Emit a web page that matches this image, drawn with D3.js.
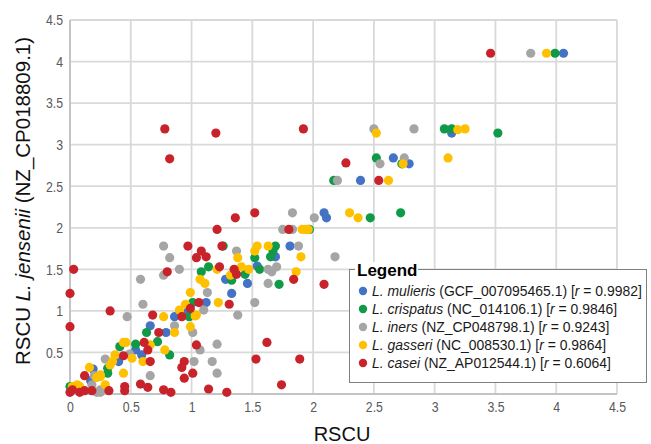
<!doctype html>
<html>
<head>
<meta charset="utf-8">
<script src="https://cdnjs.cloudflare.com/ajax/libs/d3/7.8.5/d3.min.js"></script>
<style>
  body { margin: 0; background: #fff; }
  svg { display: block; }
  .tick text { font-family: 'Liberation Sans', Arial, sans-serif; fill: #595959; font-size: 15px; }
</style>
</head>
<body>
<svg id="chart" width="651" height="444"></svg>
<script>
// tick labels
const xTicks = [0, 0.5, 1, 1.5, 2, 2.5, 3, 3.5, 4, 4.5];
const yTicks = [0.5, 1, 1.5, 2, 2.5, 3, 3.5, 4, 4.5];

const seriesNames = ["L. mulieris", "L. crispatus", "L. iners", "L. gasseri", "L. casei"];
const accessions = ["GCF_007095465.1", "NC_014106.1", "NZ_CP048798.1", "NC_008530.1", "NZ_AP012544.1"];
const rValues = ["0.9982", "0.9846", "0.9243", "0.9864", "0.6064"];

// [x RSCU of species, y RSCU of L. jensenii]
const mulieris = [
  [4.06,4.10],[3.14,3.14],[2.66,2.84],[2.79,2.77],[2.39,2.57],[2.09,2.18],[2.11,2.12],
  [1.81,1.78],[1.69,1.65],[1.54,1.54],[1.28,1.38],[1.46,1.33],[1.33,1.21],[1.12,1.10],
  [0.97,0.99],[0.86,0.93],[0.66,0.82],[0.79,0.74],[0.54,0.53],[0.59,0.47],[0.40,0.39],
  [0.19,0.30],[0.17,0.16],[0.05,0.07]
];
const crispatus = [
  [3.99,4.10],[3.08,3.19],[3.14,3.19],[3.52,3.14],[2.52,2.84],[2.73,2.77],[2.17,2.57],
  [2.47,2.12],[2.72,2.18],[1.97,1.98],[1.26,1.78],[1.69,1.78],[1.67,1.72],[1.65,1.65],
  [1.52,1.64],[1.08,1.47],[1.14,1.53],[1.44,1.44],[1.56,1.50],[1.33,1.37],[1.72,1.32],
  [1.01,1.10],[0.98,0.93],[0.63,0.74],[0.72,0.63],[0.82,0.47],[0.54,0.60],[0.41,0.57],
  [0.31,0.31],[0.31,0.25],[0.00,0.09]
];
const iners = [
  [3.79,4.10],[2.50,3.19],[2.83,3.19],[2.55,2.77],[2.75,2.84],[2.20,2.57],[1.83,2.18],
  [2.01,2.12],[1.75,1.98],[1.83,1.98],[0.77,1.78],[0.82,1.64],[1.37,1.72],[1.88,1.78],
  [2.18,1.65],[0.90,1.50],[0.77,1.43],[1.66,1.47],[1.70,1.53],[1.63,1.50],[0.58,1.38],
  [1.63,1.33],[0.60,1.08],[0.47,0.93],[1.13,1.22],[1.10,1.01],[1.52,1.10],[1.38,0.95],
  [0.86,0.82],[1.01,0.74],[1.07,0.53],[1.21,0.60],[1.02,0.39],[1.17,0.39],[1.21,0.25],
  [0.49,0.48],[0.29,0.42],[0.66,0.22],[0.20,0.22],[0.18,0.11],[0.25,0.05],[0.08,0.04],
  [0.22,0.02],[0.25,0.02]
];
const gasseri = [
  [3.92,4.10],[2.52,3.14],[3.19,3.18],[3.25,3.19],[3.11,2.84],[2.74,2.77],[2.62,2.57],
  [2.30,2.18],[2.37,2.12],[1.91,1.98],[1.94,1.98],[1.96,1.98],[1.54,1.78],[1.63,1.78],
  [1.52,1.72],[1.38,1.64],[1.90,1.65],[1.21,1.50],[1.41,1.53],[1.47,1.50],[1.32,1.43],
  [1.86,1.47],[1.07,1.38],[1.11,1.33],[0.99,1.22],[1.22,1.10],[0.95,1.08],[0.90,1.01],
  [1.04,0.95],[0.77,0.93],[1.03,0.94],[0.99,0.81],[0.86,0.74],[0.44,0.62],[0.46,0.62],
  [0.66,0.59],[0.78,0.53],[0.51,0.43],[0.60,0.39],[0.37,0.47],[0.35,0.39],[0.33,0.35],
  [0.16,0.32],[0.44,0.25],[0.22,0.20],[0.25,0.21],[0.29,0.11],[0.02,0.09],[0.06,0.11],
  [0.08,0.09],[0.25,0.23]
];
const casei = [
  [3.46,4.10],[1.92,3.19],[0.78,3.19],[1.20,3.14],[0.82,2.83],[2.27,2.78],[2.54,2.57],
  [1.36,2.12],[1.52,2.18],[1.21,1.98],[1.80,1.98],[0.97,1.78],[1.08,1.72],[1.12,1.65],
  [1.04,1.64],[1.25,1.78],[0.80,1.47],[1.23,1.53],[1.35,1.50],[1.37,1.44],[1.84,1.38],
  [2.09,1.32],[0.03,1.50],[0.00,1.21],[0.00,0.81],[0.33,1.00],[0.68,0.95],[0.92,0.93],
  [0.99,1.03],[1.06,1.10],[1.31,1.08],[0.73,0.74],[0.61,0.62],[0.64,0.53],[0.66,0.39],
  [0.44,0.46],[1.04,0.59],[1.62,0.62],[0.94,0.39],[0.92,0.32],[1.01,0.25],[0.94,0.19],
  [1.53,0.42],[1.89,0.42],[1.74,0.11],[1.14,0.06],[1.29,0.02],[0.12,0.22],[0.02,0.05],
  [0.08,0.02],[0.18,0.04],[0.12,0.04],[0.00,0.02],[0.32,0.04],[0.45,0.09],[0.45,0.04],
  [0.58,0.12],[0.64,0.08],[0.77,0.05],[0.83,0.02]
];
const seriesData = [mulieris, crispatus, iners, gasseri, casei];
const colors = ["#4472C4", "#0F9A48", "#A5A5A5", "#FFC000", "#C8232B"];

const svg = d3.select("#chart");
const x = d3.scaleLinear().domain([0, 4.5]).range([70, 617]);
const y = d3.scaleLinear().domain([0, 4.5]).range([394, 20]);

// grid
svg.append("g").selectAll("line.v")
    .data(xTicks.slice(1))
    .enter().append("line")
    .attr("x1", d => x(d)).attr("x2", d => x(d))
    .attr("y1", y(0)).attr("y2", y(4.5))
    .style("stroke", "#d9d9d9").style("stroke-width", 1.8);
svg.append("g").selectAll("line.h")
    .data(yTicks)
    .enter().append("line")
    .attr("x1", x(0)).attr("x2", x(4.5))
    .attr("y1", d => y(d)).attr("y2", d => y(d))
    .style("stroke", "#d9d9d9").style("stroke-width", 1.8);

// axis lines
svg.append("line").attr("x1", x(0)).attr("x2", x(4.5)).attr("y1", y(0)).attr("y2", y(0))
    .style("stroke", "#c4c4c4").style("stroke-width", 2);
svg.append("line").attr("x1", x(0)).attr("x2", x(0)).attr("y1", y(0)).attr("y2", y(4.5))
    .style("stroke", "#c4c4c4").style("stroke-width", 2);

// tick labels (narrowed, like the condensed face in the original)
const narrow = 0.82;
const xAxis = svg.append("g").attr("transform", "translate(0," + y(0) + ")")
    .call(d3.axisBottom(x).tickValues(xTicks).tickSize(0).tickPadding(7).tickFormat(d3.format("")));
xAxis.select(".domain").remove();
xAxis.selectAll("text").attr("transform", "scale(" + narrow + ",1)");
const yAxis = svg.append("g").attr("transform", "translate(" + x(0) + ",0)")
    .call(d3.axisLeft(y).tickValues(yTicks).tickSize(0).tickPadding(7).tickFormat(d3.format("")));
yAxis.select(".domain").remove();
yAxis.selectAll("text").attr("x", -7 / narrow).attr("transform", "scale(" + narrow + ",1)");

// points
seriesData.forEach((pts, si) => {
    svg.append("g").selectAll("circle")
        .data(pts)
        .enter().append("circle")
        .attr("cx", d => x(d[0]))
        .attr("cy", d => y(d[1]))
        .attr("r", 4.6)
        .style("fill", colors[si]);
});

// axis titles
svg.append("text")
    .attr("x", 342).attr("y", 441)
    .attr("text-anchor", "middle")
    .style("font-family", "'Liberation Sans', Arial, sans-serif")
    .style("font-size", "20px").style("fill", "#111")
    .text("RSCU");

const yt = svg.append("text")
    .attr("transform", "translate(30,201) rotate(-90)")
    .attr("text-anchor", "middle")
    .style("font-family", "'Liberation Sans', Arial, sans-serif")
    .style("font-size", "20.5px").style("fill", "#111");
yt.append("tspan").text("RSCU ");
yt.append("tspan").style("font-style", "italic").text("L. jensenii");
yt.append("tspan").text(" (NZ_CP018809.1)");

// legend
const lg = svg.append("g");
lg.append("rect")
    .attr("x", 349.5).attr("y", 269.5).attr("width", 297).attr("height", 113)
    .style("fill", "#fff").style("stroke", "#7f7f7f").style("stroke-width", 1);
lg.append("rect")
    .attr("x", 355).attr("y", 262).attr("width", 63).attr("height", 14)
    .style("fill", "#fff");
lg.append("text")
    .attr("x", 357).attr("y", 276)
    .style("font-family", "'Liberation Sans', Arial, sans-serif")
    .style("font-size", "17px").style("font-weight", "bold").style("fill", "#000")
    .text("Legend");

const rows = lg.selectAll("g.row")
    .data(seriesNames)
    .enter().append("g")
    .attr("transform", (d, i) => "translate(0," + (291 + i * 18) + ")");
rows.append("circle")
    .attr("cx", 363).attr("cy", 0).attr("r", 4.2)
    .style("fill", (d, i) => colors[i]);
const rt = rows.append("g").attr("transform", "translate(372,0)")
    .append("text")
    .attr("x", 0).attr("y", 5)
    .style("font-family", "'Liberation Sans', Arial, sans-serif")
    .style("font-size", "15px").style("fill", "#1a1a1a");
rt.append("tspan").style("font-style", "italic").text(d => d);
rt.append("tspan").text((d, i) => " (" + accessions[i] + ") [");
rt.append("tspan").style("font-style", "italic").text("r");
rt.append("tspan").text((d, i) => " = " + rValues[i] + "]");
// squeeze the rows so the first one spans the same width as in the original
const w0 = rt.node().getComputedTextLength();
const sx = 270 / w0;
rt.attr("transform", "scale(" + sx + ",1)");
</script>
</body>
</html>
